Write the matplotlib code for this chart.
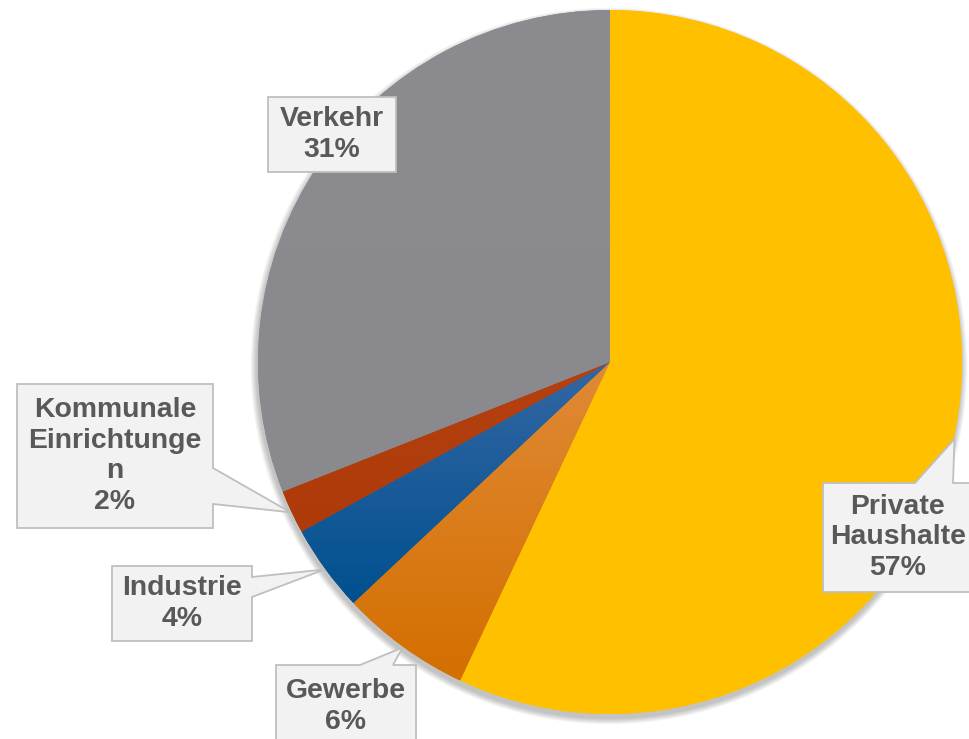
import numpy as np
import matplotlib
matplotlib.use('Agg')
import matplotlib.pyplot as plt
from matplotlib.patches import Polygon, Circle
from matplotlib.colors import LinearSegmentedColormap

plt.rcParams['font.family'] = ['Liberation Sans', 'DejaVu Sans']

# data
labels = ['Private\nHaushalte', 'Gewerbe', 'Industrie', 'Kommunale\nEinrichtunge\nn', 'Verkehr']
shares = [57, 6, 4, 2, 31]
colors_top = ['#FFC000', '#E08A36', '#3467A3', '#B4410F', '#8C8B90']
colors_bot = ['#FFC000', '#D46F00', '#00508F', '#AE3A0A', '#8A898E']

W, H = 969, 739
cx, cy, R = 610, H - 362, 352

# label boxes in image pixels: left, top, right, bottom, pointer side, pointer base (a, b), text x
boxes = [
    (823, 483, 985, 592, 'top', (915, 953), 898),
    (276, 665, 416, 748, 'top', (360, 393), 346),
    (112, 566, 252, 641, 'right', (577, 597), 182),
    (17, 384, 213, 528, 'right', (468, 504), 115),
    (268, 97, 396, 172, None, None, 332),
]

fig = plt.figure(figsize=(W / 100, H / 100), dpi=100)
ax = fig.add_axes([0, 0, 1, 1])
ax.axis('off')

# soft shadow under the pie
for k in range(7):
    ax.add_patch(Circle((cx - 1, cy - 4), R + (7 - k) * 0.9, color='black',
                        alpha=0.035, lw=0, zorder=1))

wedges, _ = ax.pie(shares, colors=colors_bot, startangle=90, counterclock=False,
                   center=(cx, cy), radius=R, wedgeprops=dict(linewidth=0, zorder=2))

# vertical gradient in each slice
grad = np.linspace(1, 0, 256).reshape(-1, 1)
for w, ct, cb in zip(wedges, colors_top, colors_bot):
    v = w.get_path().vertices
    x0, x1 = v[:, 0].min(), v[:, 0].max()
    y0, y1 = v[:, 1].min(), v[:, 1].max()
    cm = LinearSegmentedColormap.from_list('g', [cb, ct])
    im = ax.imshow(grad, extent=(x0, x1, y0, y1), cmap=cm, aspect='auto',
                   origin='upper', zorder=3)
    im.set_clip_path(w)

# callout labels
for w, lab, val, (l, t, r, b, side, base, tx) in zip(wedges, labels, shares, boxes):
    mid = np.deg2rad((w.theta1 + w.theta2) / 2)
    tip = (cx + (R + 1) * np.cos(mid), cy + (R + 1) * np.sin(mid))
    L, T, Rr, B = l, H - t, r, H - b
    if side == 'top':
        pts = [(L, B), (L, T), (base[0], T), tip, (base[1], T), (Rr, T), (Rr, B)]
    elif side == 'right':
        pts = [(L, B), (L, T), (Rr, T), (Rr, H - base[0]), tip, (Rr, H - base[1]), (Rr, B)]
    else:
        pts = [(L, B), (L, T), (Rr, T), (Rr, B)]
    ax.add_patch(Polygon(pts, closed=True, facecolor='#F2F2F2', edgecolor='#BFBFBF',
                         lw=1.3, zorder=5))
    ax.text(tx, (T + B) / 2, f'{lab}\n{val}%', ha='center', va='center',
            fontsize=20.4, fontweight='bold', color='#595959',
            linespacing=1.22, zorder=6)

ax.set_xlim(0, W)
ax.set_ylim(0, H)

fig.savefig('out.png', dpi=100)
